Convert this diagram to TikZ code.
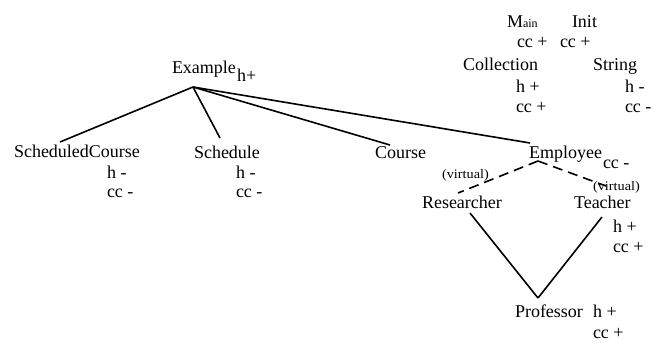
\documentclass[tikz,border=0pt]{standalone}
\usepackage{fontspec}
\usepackage{graphicx}
\setmainfont{Liberation Serif}
\begin{document}
\begin{tikzpicture}[x=1pt,y=-1pt,
  lbl/.style={anchor=base west,inner sep=0pt,outer sep=0pt,font=\fontsize{18}{20}\selectfont},
  vlbl/.style={anchor=base west,inner sep=0pt,outer sep=0pt,font=\fontsize{13}{14}\selectfont},
  edge/.style={line width=1.6pt},
  vedge/.style={line width=1.6pt,dash pattern=on 10pt off 6pt}]
\useasboundingbox (0,0) rectangle (657,343);
% top right block
\node[lbl] (main) at (507,27) {M{\fontsize{12}{13}\selectfont ain}};
\node[lbl] (init) at (572,27) {Init};
\node[lbl] (maincc) at (517,47) {cc +};
\node[lbl] (initcc) at (560,47) {cc +};
\node[lbl] (coll) at (463,70) {Collection};
\node[lbl] (str) at (593,70) {String};
\node[lbl] (collh) at (516,92) {h +};
\node[lbl] (strh) at (625,92) {h -};
\node[lbl] (collcc) at (516,112) {cc +};
\node[lbl] (strcc) at (625,112) {cc -};
% tree
\node[lbl] (ex) at (172,73) {Example};
\node[lbl] (exh) at (237,81) {h+};
\node[lbl] (sc) at (14,157) {ScheduledCourse};
\node[lbl] (sch) at (107,178) {h -};
\node[lbl] (scc) at (107,197) {cc -};
\node[lbl] (sd) at (194,158) {Schedule};
\node[lbl] (sdh) at (236,178) {h -};
\node[lbl] (sdc) at (236,197) {cc -};
\node[lbl] (co) at (375,158) {Course};
\node[lbl] (em) at (529,158) {Employee};
\node[lbl] (emc) at (603,168) {cc -};
\node[vlbl] (v1) at (442,178) {\scalebox{1.1}[1]{(virtual)}};
\node[lbl] (re) at (422,208) {Researcher};
\node[lbl] (te) at (574,208) {Teacher};
\node[vlbl] (v2) at (593,190) {\scalebox{1.1}[1]{(virtual)}};
\node[lbl] (teh) at (613,232) {h +};
\node[lbl] (tec) at (613,252) {cc +};
\node[lbl] (pr) at (515,317) {Professor};
\node[lbl] (prh) at (593,317) {h +};
\node[lbl] (prc) at (593,338) {cc +};
% connectors
\coordinate (exb) at ([shift={(21,14)}]ex.base west);
\draw[edge] (exb) -- ([shift={(46,-15)}]sc.base west);
\draw[edge] (exb) -- ([shift={(26,-20)}]sd.base west);
\draw[edge] (exb) -- ([shift={(15,-13)}]co.base west);
\draw[edge] (exb) -- ([shift={(1,-15)}]em.base west);
\coordinate (emb) at ([shift={(9,3)}]em.base west);
\draw[vedge] (emb) -- ([shift={(36,-15)}]re.base west);
\draw[vedge] (emb) -- ([shift={(32,-22)}]te.base west);
\coordinate (prt) at ([shift={(23,-19)}]pr.base west);
\draw[edge] ([shift={(48,5)}]re.base west) -- (prt);
\draw[edge] ([shift={(28,9)}]te.base west) -- (prt);
\end{tikzpicture}
\end{document}
